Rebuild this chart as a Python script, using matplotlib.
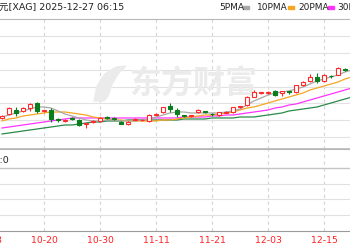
import matplotlib
matplotlib.use("Agg")
import matplotlib.pyplot as plt
from matplotlib.patches import Rectangle, Polygon
import pandas as pd

# trading-day calendar of the visible strip (10-08 only carries the cut-off label)
days = pd.bdate_range("2025-10-08", "2025-12-19")
first_candle = "10-10"
tick_labels = ["10-08", "10-20", "10-30", "11-11", "11-21", "12-03", "12-15"]

title = "元[XAG] 2025-12-27 06:15"
ma_names = ["5PMA", "10PMA", "20PMA", "30PMA"]
vol_text = "量:0"

opens = [50.71, 51.89, 53.07, 52.78, 53.66, 55.14, 52.78, 53.07, 50.30, 49.90,
         50.80, 50.12, 49.00, 49.50, 49.82, 50.90, 50.80, 49.60, 48.93, 50.20,
         50.00, 49.82, 51.70, 52.48, 54.25, 53.07, 51.40, 51.20, 52.48, 52.60,
         51.95, 51.59, 52.30, 52.48, 54.10, 54.55, 56.92, 58.10, 58.20, 58.69,
         58.10, 58.50, 58.40, 60.47, 61.65, 62.84, 61.65, 63.20, 63.43, 65.20,
         65.20]
highs = [51.59, 53.96, 53.96, 54.00, 55.00, 55.44, 53.20, 53.66, 50.70, 50.50,
         51.00, 50.41, 49.30, 50.00, 51.00, 51.20, 51.10, 49.80, 49.70, 50.60,
         50.30, 51.80, 52.20, 54.10, 55.10, 53.66, 51.60, 51.60, 53.40, 52.90,
         52.10, 52.60, 52.80, 54.10, 54.40, 57.10, 58.99, 58.50, 58.60, 59.00,
         58.80, 58.80, 60.60, 61.60, 63.72, 64.02, 63.60, 63.30, 65.80, 65.50,
         66.40]
lows = [50.41, 51.59, 51.30, 52.48, 52.78, 52.19, 52.60, 49.52, 49.50, 49.60,
        50.20, 48.34, 47.75, 49.30, 49.60, 50.30, 50.20, 48.80, 48.60, 50.10,
        49.90, 49.60, 51.60, 52.30, 52.50, 51.00, 50.90, 51.00, 52.30, 52.10,
        51.20, 51.40, 52.10, 52.30, 53.60, 54.40, 56.80, 57.70, 57.90, 57.30,
        57.22, 57.90, 58.20, 60.30, 61.50, 61.06, 61.50, 62.50, 63.30, 64.60,
        65.00]
closes = [51.30, 53.66, 52.19, 53.66, 54.85, 52.78, 53.07, 50.41, 50.00, 50.20,
          50.50, 48.64, 49.23, 49.82, 50.80, 50.60, 50.50, 49.00, 49.52, 50.50,
          50.20, 51.59, 51.90, 53.96, 53.37, 51.89, 51.20, 51.40, 53.07, 52.40,
          51.75, 52.48, 52.60, 53.96, 54.30, 56.92, 58.40, 58.40, 58.50, 57.51,
          58.69, 58.30, 60.47, 61.36, 62.84, 61.65, 63.43, 63.00, 65.50, 64.90,
          66.09]

ma5 = [51.00, 51.59, 52.19, 52.78, 53.37, 53.96, 53.96, 53.66, 52.78, 51.89,
       51.30, 50.71, 50.12, 49.82, 49.82, 50.12, 50.12, 49.82, 49.82, 49.82,
       50.12, 50.41, 51.00, 51.59, 52.19, 52.48, 52.48, 52.19, 52.19, 52.19,
       52.19, 52.19, 52.48, 52.78, 53.37, 54.55, 55.74, 56.62, 57.51, 58.10,
       58.40, 58.70, 59.29, 59.88, 60.77, 61.65, 62.25, 62.84, 63.43, 64.32,
       64.91]
ma10 = [49.82, 50.41, 50.71, 51.30, 51.59, 51.89, 52.19, 52.48, 52.48, 52.48,
        52.19, 51.89, 51.59, 51.00, 50.71, 50.41, 50.12, 50.12, 49.82, 49.82,
        49.82, 49.82, 49.82, 50.12, 50.12, 50.41, 50.71, 51.00, 51.30, 51.59,
        51.59, 51.89, 52.19, 52.48, 53.07, 53.66, 53.96, 54.55, 55.14, 55.74,
        56.33, 56.92, 57.51, 58.10, 58.99, 59.58, 60.18, 60.77, 61.36, 62.25,
        62.84]
ma20 = [47.75, 48.04, 48.34, 48.64, 48.93, 49.23, 49.52, 49.82, 50.12, 50.41,
        50.71, 50.71, 50.71, 50.71, 50.71, 50.71, 50.71, 50.71, 50.71, 50.71,
        50.71, 50.71, 50.71, 50.71, 50.71, 50.71, 51.00, 51.00, 51.00, 51.00,
        51.30, 51.30, 51.59, 51.59, 51.89, 52.19, 52.48, 52.78, 53.07, 53.66,
        53.96, 54.55, 54.85, 55.44, 56.03, 56.62, 57.22, 57.81, 58.40, 58.99,
        59.58]
ma30 = [45.97, 46.27, 46.56, 46.86, 47.16, 47.45, 47.75, 48.04, 48.34, 48.64,
        48.64, 48.93, 49.23, 49.52, 49.52, 49.82, 49.82, 49.82, 50.12, 50.12,
        50.12, 50.12, 50.12, 50.12, 50.12, 50.12, 50.41, 50.41, 50.41, 50.41,
        50.71, 50.71, 50.71, 50.71, 51.00, 51.00, 51.00, 51.30, 51.59, 51.89,
        52.19, 52.78, 53.07, 53.37, 53.66, 53.96, 54.55, 55.14, 55.74, 56.33,
        56.92]

RED = "#ff2a2a"
GREEN = "#0a7d1e"
MA_COLORS = ["#a8a8a8", "#f5a623", "#ff33ff", "#2a8a4a"]
FONT = ["DejaVu Sans", "Noto Sans CJK SC"]

W, H = 350, 250
fig = plt.figure(figsize=(3.5, 2.5), dpi=100)


def rect(top, bottom):
    # pixel rows -> figure rectangle, full width
    return [0, 1 - bottom / H, 1, (bottom - top) / H]


labels = days.strftime("%m-%d").tolist()
start = labels.index(first_candle)
xs = list(range(start, start + len(opens)))
x0 = labels.index("10-20")
xlim = (x0 - 44 / 7, x0 + (W - 44) / 7)

ax = fig.add_axes(rect(19, 149))
axv = fig.add_axes(rect(149, 231))

for a in (ax, axv):
    a.set_xlim(*xlim)
    a.set_xticks([])
    a.set_yticks([])
    a.spines["left"].set_visible(False)
    a.spines["right"].set_visible(False)
    for t in tick_labels:
        if t in labels:
            a.axvline(labels.index(t), color="#d4d4d4", lw=0.8, ls=(0, (3, 3)), zorder=0)

# main price panel
ax.set_ylim(41.53, 80)
for g in range(45, 80, 5):
    ax.axhline(g, color="#e2e2e2", lw=0.8, zorder=0)
ax.spines["top"].set_color("#b8b8b8")
ax.spines["bottom"].set_color("#b8b8b8")
ax.spines["bottom"].set_linewidth(1.2)

# watermark
ax.text(193 / W, 1 - 85 / H, "东方财富", transform=fig.transFigure, fontsize=23,
        family="Noto Sans CJK SC", fontweight="bold", color="#ebebeb",
        ha="center", va="center", zorder=0.5)
logo = [(94, 101), (97, 86), (105, 74), (116, 67), (126, 66), (118, 74),
        (112, 84), (108, 96), (104, 101)]
ax.add_patch(Polygon([(x / W, 1 - y / H) for x, y in logo], closed=True,
                     transform=fig.transFigure, color="#ebebeb", zorder=0.5))

for m, c in zip([ma30, ma20, ma10, ma5], MA_COLORS[::-1]):
    ax.plot(xs, m, color=c, lw=0.9, zorder=2)

bw = 0.7
for x, o, h, l, c in zip(xs, opens, highs, lows, closes):
    lo, hi = min(o, c), max(o, c)
    if c >= o:
        ax.vlines(x, hi, h, color=RED, lw=0.8, zorder=3)
        ax.vlines(x, l, lo, color=RED, lw=0.8, zorder=3)
        ax.add_patch(Rectangle((x - bw / 2, lo), bw, max(hi - lo, 0.25),
                               facecolor="white", edgecolor=RED, lw=0.8, zorder=4))
    else:
        ax.vlines(x, l, h, color=GREEN, lw=0.8, zorder=3)
        ax.add_patch(Rectangle((x - bw / 2, lo), bw, max(hi - lo, 0.25),
                               facecolor=GREEN, edgecolor=GREEN, lw=0.8, zorder=4))

# lower (volume) panel, empty
axv.set_ylim(0, 5.206)
for g in (1, 2, 3):
    axv.axhline(g, color="#e0e0e0", lw=0.8, zorder=0)
axv.axhline(4, color="#c4c4c4", lw=1.0, zorder=1)
axv.spines["top"].set_color("#b8b8b8")
axv.spines["bottom"].set_color("#9a9a9a")
axv.text(9 / W, 1 - 160 / H, vol_text, transform=fig.transFigure, ha="right",
         va="center", fontsize=6.8, family=FONT, color="#222222")
for t in tick_labels:
    axv.text(labels.index(t), -0.11, t, transform=axv.get_xaxis_transform(),
             ha="center", va="center", fontsize=6.7, family=FONT, color="#ff2020",
             clip_on=False)

# header line
fig.text(-1 / W, 1 - 7 / H, title, ha="left", va="center", fontsize=6.8,
         family=FONT, color="#222222")
leg_x = [219, 257, 298, 337]
bar_x = [243, 288, 328, 368]
for name, lx, bx, c in zip(ma_names, leg_x, bar_x, MA_COLORS):
    fig.text(lx / W, 1 - 7 / H, name, ha="left", va="center", fontsize=6.5,
             family=FONT, color="#222222")
    fig.patches.append(Rectangle((bx / W, 1 - 9 / H), 6 / W, 3 / H,
                                 transform=fig.transFigure, color=c))

fig.savefig("out.png", dpi=100, facecolor="white")
